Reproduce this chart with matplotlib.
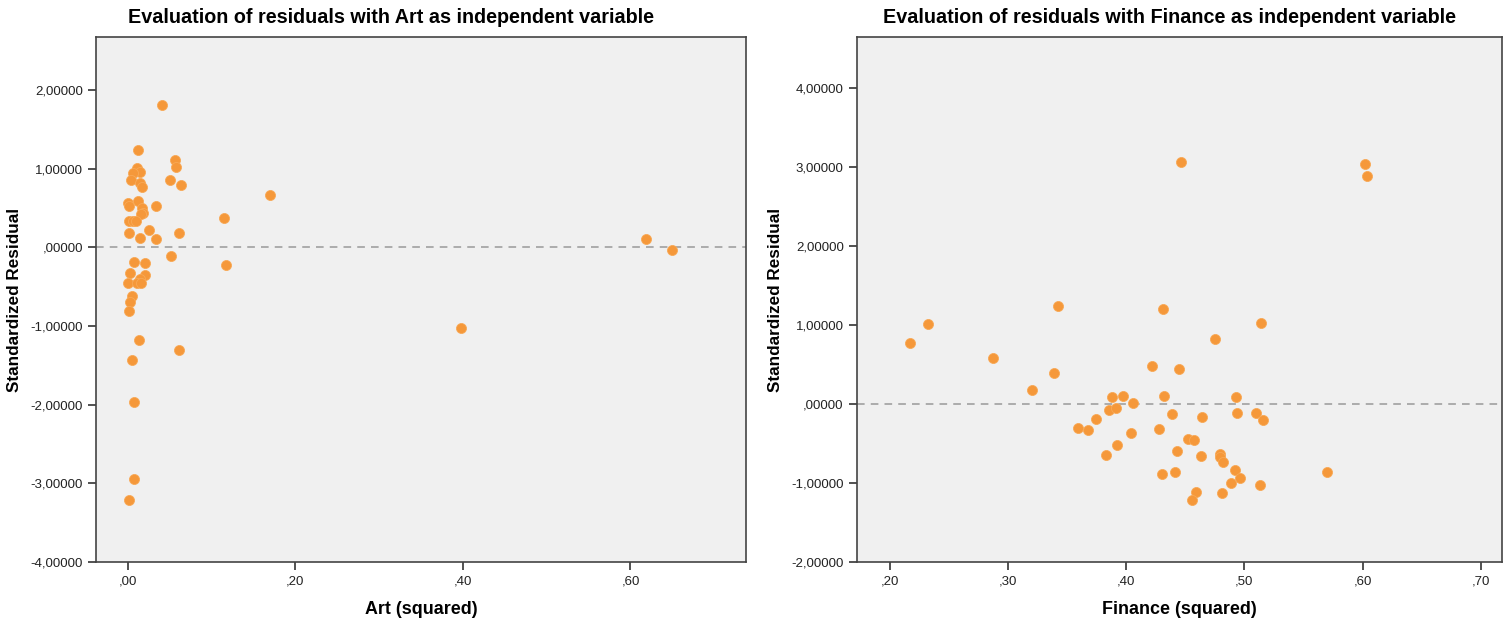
import matplotlib
matplotlib.use('Agg')
import matplotlib.pyplot as plt
from matplotlib.ticker import FuncFormatter

plt.rcParams['font.family'] = ['Liberation Sans', 'DejaVu Sans']

# residuals vs Art (squared)
art_x = [0.041, 0.0123, 0.056, 0.058, 0.0104, 0.014, 0.0064, 0.0032, 0.014, 0.017,
         0.050, 0.063, 0.170, 0.0004, 0.001, 0.0116, 0.017, 0.018, 0.016, 0.033,
         0.115, 0.0016, 0.006, 0.010, 0.025, 0.0016, 0.014, 0.033, 0.061, 0.052,
         0.117, 0.0068, 0.020, 0.0024, 0.020, 0.014, 0.0, 0.011, 0.016, 0.005,
         0.0024, 0.0016, 0.0135, 0.061, 0.0044, 0.0076, 0.0072, 0.001, 0.398, 0.618,
         0.650]
art_y = [1.81, 1.23, 1.11, 1.02, 1.01, 0.96, 0.94, 0.85, 0.82, 0.77,
         0.86, 0.79, 0.67, 0.56, 0.53, 0.59, 0.50, 0.44, 0.42, 0.53,
         0.37, 0.33, 0.33, 0.33, 0.22, 0.18, 0.12, 0.10, 0.18, -0.11,
         -0.22, -0.19, -0.20, -0.33, -0.35, -0.40, -0.45, -0.46, -0.46, -0.62,
         -0.69, -0.81, -1.18, -1.30, -1.43, -1.97, -2.95, -3.21, -1.03, 0.10,
         -0.03]

# residuals vs Finance (squared)
fin_x = [0.217, 0.232, 0.287, 0.342, 0.339, 0.320, 0.388, 0.397, 0.385, 0.391,
         0.374, 0.359, 0.368, 0.404, 0.392, 0.383, 0.431, 0.514, 0.475, 0.422,
         0.445, 0.432, 0.493, 0.406, 0.439, 0.464, 0.494, 0.510, 0.516, 0.428,
         0.452, 0.457, 0.443, 0.463, 0.479, 0.479, 0.482, 0.492, 0.430, 0.441,
         0.496, 0.489, 0.513, 0.459, 0.481, 0.456, 0.446, 0.602, 0.604, 0.570]
fin_y = [0.78, 1.01, 0.59, 1.25, 0.40, 0.18, 0.09, 0.11, -0.08, -0.05,
         -0.19, -0.30, -0.33, -0.36, -0.52, -0.65, 1.20, 1.03, 0.83, 0.49,
         0.44, 0.10, 0.09, 0.01, -0.13, -0.16, -0.11, -0.11, -0.20, -0.31,
         -0.44, -0.46, -0.59, -0.66, -0.63, -0.67, -0.73, -0.83, -0.88, -0.86,
         -0.94, -1.00, -1.03, -1.11, -1.13, -1.21, 3.07, 3.04, 2.89, -0.86]

art_xticks = [0.0, 0.2, 0.4, 0.6]
fin_xticks = [0.2, 0.3, 0.4, 0.5, 0.6, 0.7]
art_yticks = [2, 1, 0, -1, -2, -3, -4]
fin_yticks = [4, 3, 2, 1, 0, -1, -2]


def spss_fmt(decimals):
    """SPSS style: comma decimal separator, no leading zero."""
    def f(v, pos):
        s = ('%.' + str(decimals) + 'f') % v
        if s.startswith('-0'):
            s = '-' + s[2:]
        elif s.startswith('0'):
            s = s[1:]
        return s.replace('.', ',')
    return FuncFormatter(f)


def residual_plot(ax, x, y, xticks, yticks, xlim, ylim, title, xlabel, title_x):
    ax.set_facecolor('#f0f0f0')
    ax.axhline(0, color='#999999', lw=1.1, ls=(0, (5, 4)), zorder=1)
    ax.scatter(x, y, s=52, color='#f5983a', edgecolors='#f8a956',
               linewidths=0.6, zorder=3)
    ax.set_xlim(*xlim)
    ax.set_ylim(*ylim)
    ax.set_xticks(xticks)
    ax.set_yticks(yticks)
    ax.xaxis.set_major_formatter(spss_fmt(2))
    ax.yaxis.set_major_formatter(spss_fmt(5))
    ax.tick_params(direction='out', length=6, width=1.2, color='#333333',
                   labelsize=9.5, labelcolor='#222222')
    for sp in ax.spines.values():
        sp.set_color('#444444')
        sp.set_linewidth(1.2)
    ax.set_title(title, fontsize=14.2, fontweight='bold', pad=10, x=title_x)
    ax.set_xlabel(xlabel, fontsize=12.9, fontweight='bold', labelpad=10)
    ax.set_ylabel('Standardized Residual', fontsize=12.3, fontweight='bold',
                  labelpad=6)


fig = plt.figure(figsize=(15.1, 6.19), dpi=100)
ax1 = fig.add_axes([0.0636, 0.092, 0.4305, 0.848])
ax2 = fig.add_axes([0.5675, 0.092, 0.4272, 0.848])

residual_plot(ax1, art_x, art_y, art_xticks, art_yticks,
              (-0.038, 0.738), (-4.0, 2.67),
              'Evaluation of residuals with Art as independent variable',
              'Art (squared)', 0.454)
residual_plot(ax2, fin_x, fin_y, fin_xticks, fin_yticks,
              (0.172, 0.718), (-2.0, 4.65),
              'Evaluation of residuals with Finance as independent variable',
              'Finance (squared)', 0.484)

fig.savefig('out.png', dpi=100)
